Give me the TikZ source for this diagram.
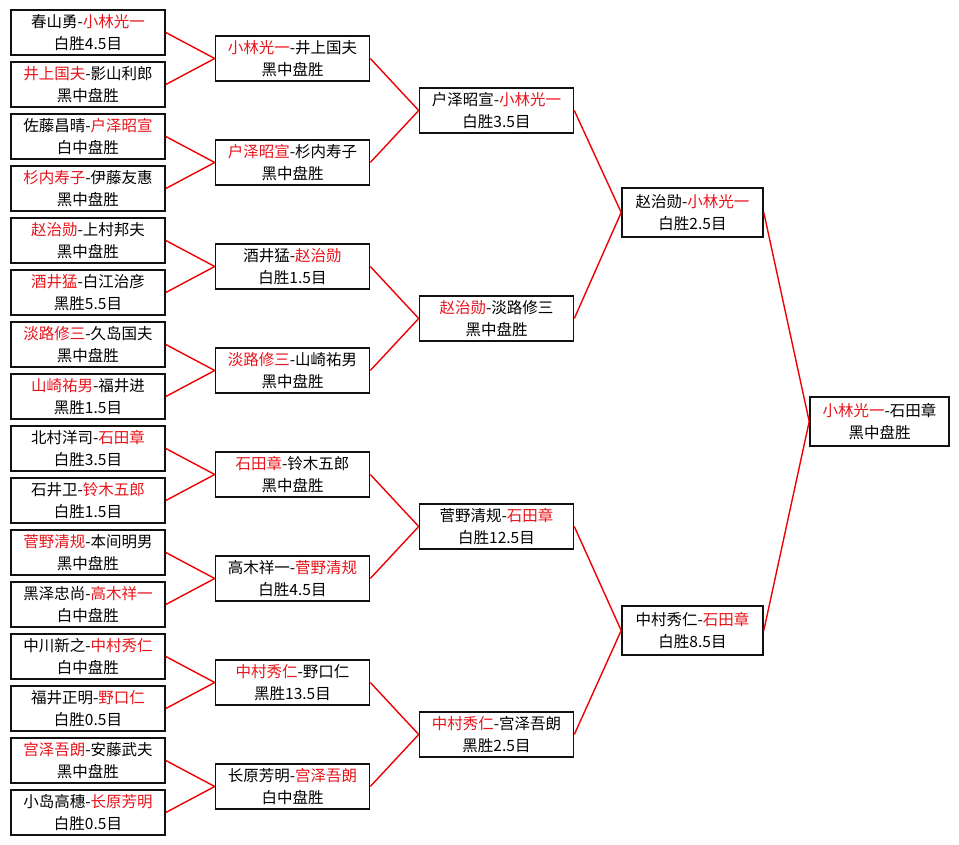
\documentclass[tikz,border=0pt]{standalone}
\usepackage{fontspec}
\setmainfont{Noto Sans CJK SC}
\usepackage{xcolor}
\usepackage{tikz}
\usetikzlibrary{positioning}
\definecolor{winc}{HTML}{E8141B}
\definecolor{linkc}{HTML}{F00000}
\definecolor{framec}{HTML}{111111}
\newcommand{\wn}[1]{\textcolor{winc}{#1}}
\tikzset{
  box/.style={draw=framec,line width=1.6pt,fill=white,align=center,inner sep=0pt,
    minimum width=154pt,minimum height=45pt,font=\fontsize{15.5}{21.5}\selectfont},
  sbox/.style={box,minimum width=141pt,minimum height=49pt},
  fbox/.style={box,minimum width=139pt,minimum height=49pt},
  lnk/.style={linkc,line width=1.4pt}
}

\begin{document}
\begin{tikzpicture}[x=1pt,y=-1pt]
\fill[white] (0,0) rectangle (959,845);
\useasboundingbox (0,0) rectangle (959,845);
% first round
\node[box] (m1) at (88,32.5) {春山勇-\wn{小林光一}\\白胜4.5目};
\node[box] (m2) at (88,84.5) {\wn{井上国夫}-影山利郎\\黑中盘胜};
\node[box] (m3) at (88,136.5) {佐藤昌晴-\wn{户泽昭宣}\\白中盘胜};
\node[box] (m4) at (88,188.5) {\wn{杉内寿子}-伊藤友惠\\黑中盘胜};
\node[box] (m5) at (88,240.5) {\wn{赵治勋}-上村邦夫\\黑中盘胜};
\node[box] (m6) at (88,292.5) {\wn{酒井猛}-白江治彦\\黑胜5.5目};
\node[box] (m7) at (88,344.5) {\wn{淡路修三}-久岛国夫\\黑中盘胜};
\node[box] (m8) at (88,396.5) {\wn{山崎祐男}-福井进\\黑胜1.5目};
\node[box] (m9) at (88,448.5) {北村洋司-\wn{石田章}\\白胜3.5目};
\node[box] (m10) at (88,500.5) {石井卫-\wn{铃木五郎}\\白胜1.5目};
\node[box] (m11) at (88,552.5) {\wn{菅野清规}-本间明男\\黑中盘胜};
\node[box] (m12) at (88,604.5) {黑泽忠尚-\wn{高木祥一}\\白中盘胜};
\node[box] (m13) at (88,656.5) {中川新之-\wn{中村秀仁}\\白中盘胜};
\node[box] (m14) at (88,708.5) {福井正明-\wn{野口仁}\\白胜0.5目};
\node[box] (m15) at (88,760.5) {\wn{宫泽吾朗}-安藤武夫\\黑中盘胜};
\node[box] (m16) at (88,812.5) {小岛高穗-\wn{长原芳明}\\白胜0.5目};
% second round
\node[box] (q1) at (292.5,58.5) {\wn{小林光一}-井上国夫\\黑中盘胜};
\node[box] (q2) at (292.5,162.5) {\wn{户泽昭宣}-杉内寿子\\黑中盘胜};
\node[box] (q3) at (292.5,266.5) {酒井猛-\wn{赵治勋}\\白胜1.5目};
\node[box] (q4) at (292.5,370.5) {\wn{淡路修三}-山崎祐男\\黑中盘胜};
\node[box] (q5) at (292.5,474.5) {\wn{石田章}-铃木五郎\\黑中盘胜};
\node[box] (q6) at (292.5,578.5) {高木祥一-\wn{菅野清规}\\白胜4.5目};
\node[box] (q7) at (292.5,682.5) {\wn{中村秀仁}-野口仁\\黑胜13.5目};
\node[box] (q8) at (292.5,786.5) {长原芳明-\wn{宫泽吾朗}\\白中盘胜};
% quarter finals
\node[box] (s1) at (496.5,110.5) {户泽昭宣-\wn{小林光一}\\白胜3.5目};
\node[box] (s2) at (496.5,318.5) {\wn{赵治勋}-淡路修三\\黑中盘胜};
\node[box] (s3) at (496.5,526.5) {菅野清规-\wn{石田章}\\白胜12.5目};
\node[box] (s4) at (496.5,734.5) {\wn{中村秀仁}-宫泽吾朗\\黑胜2.5目};
% semi finals
\node[sbox] (f1) at (692.5,212.5) {赵治勋-\wn{小林光一}\\白胜2.5目};
\node[sbox] (f2) at (692.5,630.5) {中村秀仁-\wn{石田章}\\白胜8.5目};
% final
\node[fbox] (champ) at (879.5,421.5) {\wn{小林光一}-石田章\\黑中盘胜};
\foreach \a/\b in {m1/q1,m2/q1,m3/q2,m4/q2,m5/q3,m6/q3,m7/q4,m8/q4,
  m9/q5,m10/q5,m11/q6,m12/q6,m13/q7,m14/q7,m15/q8,m16/q8,
  q1/s1,q2/s1,q3/s2,q4/s2,q5/s3,q6/s3,q7/s4,q8/s4,
  s1/f1,s2/f1,s3/f2,s4/f2,f1/champ,f2/champ}
  \draw[lnk] (\a.east) -- (\b.west);
\end{tikzpicture}
\end{document}
